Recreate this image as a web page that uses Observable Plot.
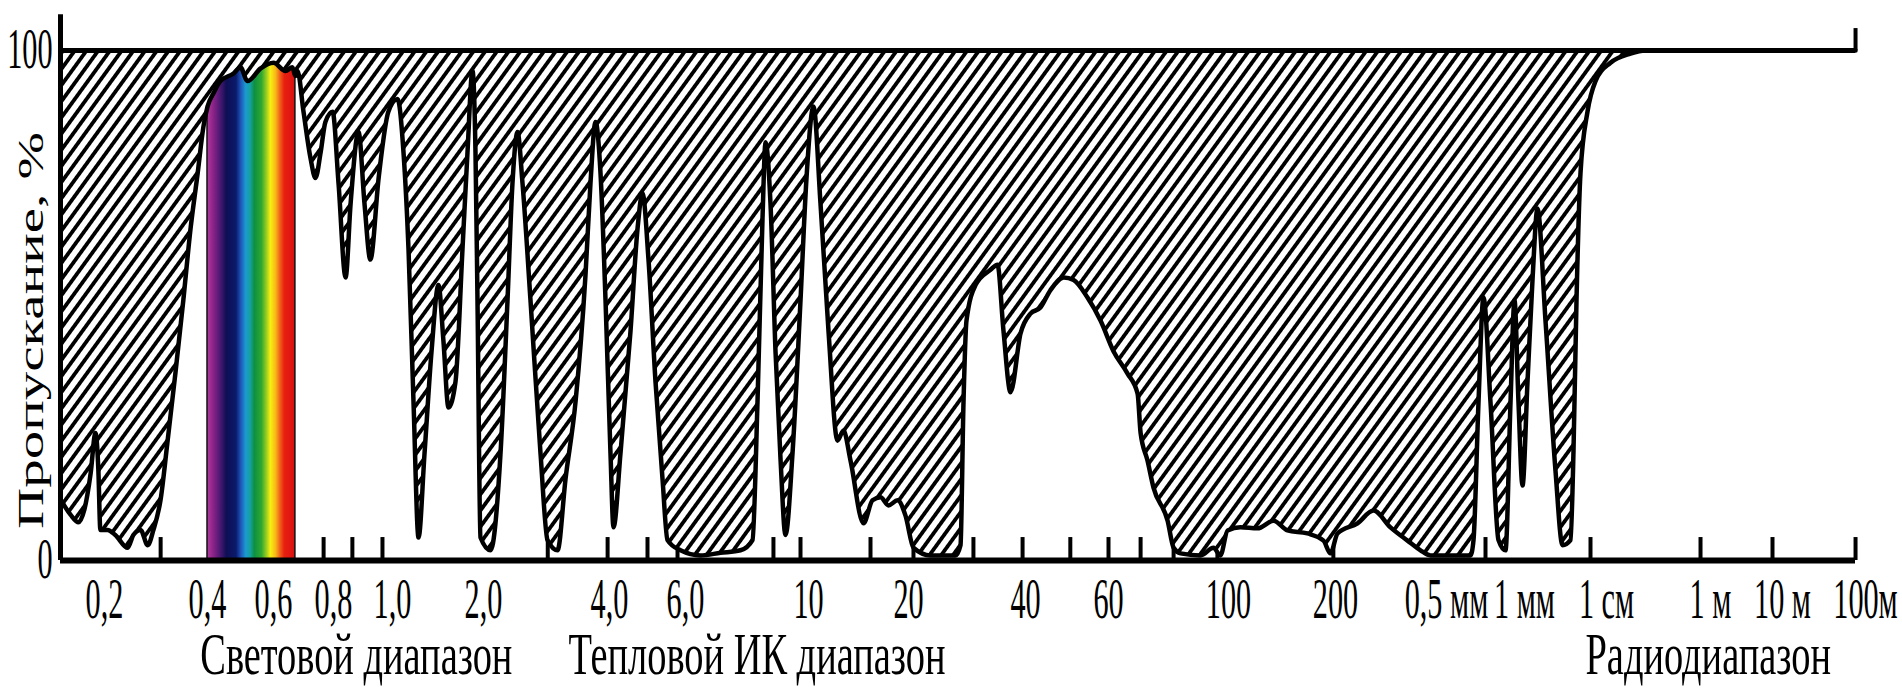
<!DOCTYPE html>
<html>
<head>
<meta charset="utf-8">
<script src="https://cdn.jsdelivr.net/npm/d3@7"></script>
<script src="https://cdn.jsdelivr.net/npm/@observablehq/plot@0.6"></script>
<style>
  html, body { margin: 0; padding: 0; background: #ffffff; }
  #chart svg { display: block; }
</style>
</head>
<body>
<div id="chart"></div>
<script>
// ---- data ----
// wavelength in micrometres (hand-drawn, non-uniform axis), transmission in %
const wavelength = [
  0.1146, 0.134, 0.1495, 0.161, 0.173, 0.1825, 0.188, 0.192, 0.206, 0.221, 0.245, 0.256, 0.270, 0.284, 0.295,
  0.309, 0.322, 0.338, 0.353, 0.367, 0.381, 0.392, 0.400, 0.418, 0.439, 0.479, 0.500, 0.521, 0.561, 0.600,
  0.640, 0.663, 0.673, 0.680, 0.700, 0.723, 0.740, 0.757, 0.773, 0.797, 0.817, 0.841, 0.858, 0.885, 0.905,
  0.925, 0.953, 0.986, 1.055, 1.121, 1.176, 1.231, 1.286, 1.352, 1.429, 1.505, 1.560, 1.615, 1.692, 1.769,
  1.824, 1.879, 1.912, 1.934, 1.967, 2.111, 2.270, 2.381, 2.460, 2.540, 2.619, 2.746, 2.905, 3.016, 3.175,
  3.302, 3.460, 3.619, 3.698, 3.778, 3.857, 3.937, 4.026, 4.105, 4.289, 4.553, 4.737, 4.868, 5.026, 5.211,
  5.395, 5.526, 5.868, 6.488, 7.138, 7.789, 8.179, 8.341, 8.504, 8.602, 8.764, 8.927, 9.089, 9.252, 9.480,
  9.740, 9.935, 10.5, 11.2, 12.0, 12.9, 13.5, 14.2, 15.5, 16.4, 17.2, 18.0, 18.9, 19.7, 20.85,
  23.76, 28.03, 28.89, 29.40, 29.91, 31.45, 34.02, 35.21, 36.24, 37.44, 39.15, 41.2, 43.6, 46.0, 49.2,
  51.6, 54.9, 58.1, 61.7, 66.3, 69.7, 70.7, 73.0, 75.0, 79.7, 81.7, 84.0, 90.7, 95.0, 97.3,
  99.7, 111.2, 127.1, 142.1, 155.1, 173.8, 188.8, 195.3, 205.4, 259.5, 302.7, 348.6, 394.6, 429.7, 456.8,
  653.8, 673.1, 705.1, 737.2, 782.1, 833.3, 878.2, 910.3, 935.9, 961.5, 987.2, 1329, 1878, 2427, 3305,
  4402, 5171, 6049, 6378, 6707, 7146, 7915, 8793, 48077, 238462, 381250, 8.92e7
];
const transmission = [
  12, 9, 7.5, 10, 17, 25, 18, 6, 6, 5, 2.5, 5, 6, 3, 6,
  12, 23, 37, 51, 65, 76, 85, 89, 91.6, 94, 95.5, 96.7, 94, 96.5, 97.6,
  96, 96.7, 95, 96, 88, 79, 75, 80, 86, 88, 74, 55.5, 70, 84, 70,
  59, 75, 88, 90.5, 80, 61, 31, 4.5, 21, 41, 54, 43, 30, 35, 61,
  80, 96, 80, 51, 4.5, 2, 21, 51, 74, 84, 74, 51, 21, 4, 2,
  16, 31, 56, 74, 86, 76, 51, 21, 6.5, 21, 45, 65, 72, 59, 35,
  16, 4, 2, 1, 1.5, 2, 4, 31, 67, 82, 70, 41, 20, 5, 21,
  51, 75, 89, 70, 45, 23.5, 25.5, 19.6, 7.3, 11.8, 12.4, 10.8, 11.8, 8.8, 2.5,
  1, 1, 3, 31, 47, 54, 57, 58, 45, 33, 44.5, 48.4, 49.6, 53, 55.5,
  55, 51.6, 47, 41, 36.7, 32.7, 25, 19.6, 14.3, 7.8, 2.5, 1.4, 1, 2.5, 1,
  5.9, 6.5, 6.3, 7.8, 5.9, 5.3, 3.9, 1.4, 5.3, 7.3, 9.8, 6.5, 3.9, 2, 1,
  1, 4, 31, 51.6, 31, 4, 2, 31, 51, 31, 14.7, 35, 55, 69, 47,
  17.6, 3, 4, 21.5, 51, 76, 88, 94, 97.6, 99.4, 100, 100
];
const tickLabelValues = [0.2, 0.4, 0.6, 0.8, 1, 2, 4, 6, 10, 20, 40, 60, 100, 200, 500, 1000, 1e4, 1e6, 1e7, 1e8];
const tickLabels = ["0,2", "0,4", "0,6", "0,8", "1,0", "2,0", "4,0", "6,0", "10", "20", "40", "60", "100", "200",
  "0,5 мм", "1 мм", "1 см", "1 м", "10 м", "100м"];
const minorTicks = [0.309, 0.767, 0.864, 0.966, 3.02, 3.97, 5.0, 5.79, 8.86, 9.74, 16.2, 20.85, 31.1, 39.5,
  50.8, 60, 70.7, 81.7, 96.3, 198, 750, 8244, 9.05e5, 8.75e6];
const visibleBand = [0.4, 0.673];
const rangeNames = ["Световой диапазон", "Тепловой ИК диапазон", "Радиодиапазон"];
const rangeStarts = [0.386, 3.35, 7695];
const axisEnds = [0.1146, 8.92e7];
const yTicks = [0, 100];
const yLabel = "Пропускание, %";

// ---- build ----
const curve = wavelength.map((w, i) => ({w, t: transmission[i]}));
const band = curve.filter(d => d.w >= visibleBand[0] && d.w <= visibleBand[1]);
const labelOf = new Map(tickLabelValues.map((v, i) => [v, tickLabels[i]]));
const ranges = rangeNames.map((name, i) => ({name, start: rangeStarts[i]}));

const chart = Plot.plot({
  width: 1902,
  height: 691,
  marginLeft: 60,
  marginRight: 47,
  marginTop: 50,
  marginBottom: 131,
  style: {fontFamily: "'Liberation Serif', 'Times New Roman', serif", fontSize: "56px", background: "#ffffff", color: "#000"},
  x: {
    type: "linear",
    // hand-drawn, non-uniform wavelength axis: piecewise scale through the labelled values
    domain: [axisEnds[0], ...tickLabelValues],
    range: [60, 104, 207, 273, 333, 392, 483, 609, 685, 808, 908, 1025, 1108, 1228, 1335, 1446, 1524, 1606, 1710, 1782, 1865]
  },
  y: {domain: [0, 100]},
  marks: [
    Plot.ruleX(minorTicks, {y1: 0, y2: 4.5, stroke: "#000", strokeWidth: 4}),
    Plot.areaY(curve, {x: "w", y1: "t", y2: 100, fill: "url(#hatch)", curve: "monotone-x"}),
    Plot.areaY(band, {x: "w", y1: 0, y2: "t", fill: "url(#rainbow)", stroke: "#111", strokeWidth: 1.5, curve: "monotone-x"}),
    Plot.line(curve, {x: "w", y: "t", stroke: "#000", strokeWidth: 4.5, strokeLinejoin: "round", curve: "monotone-x"}),
    Plot.ruleY([100], {stroke: "#000", strokeWidth: 5}),
    Plot.ruleY([0], {stroke: "#000", strokeWidth: 6}),
    Plot.ruleX([axisEnds[0]], {y1: 0, y2: 107, stroke: "#000", strokeWidth: 5}),
    Plot.ruleX([axisEnds[1]], {y1: 100, y2: 104.3, stroke: "#000", strokeWidth: 4}),
    Plot.ruleX([axisEnds[1]], {y1: 0, y2: 4.5, stroke: "#000", strokeWidth: 4}),
    Plot.axisX(tickLabelValues, {anchor: "bottom", tickSize: 0, tickPadding: 18, label: null,
      tickFormat: d => labelOf.get(d), fontSize: 56, fill: "#000"}),
    Plot.axisY(yTicks, {anchor: "left", tickSize: 0, tickPadding: 8, label: null, fontSize: 56, fill: "#000"}),
    Plot.text(ranges, {x: "start", text: "name", frameAnchor: "bottom", lineAnchor: "middle", dy: 94,
      textAnchor: "start", fontSize: 60, fill: "#000"}),
    Plot.text([yLabel], {text: d => d, frameAnchor: "left", textAnchor: "middle", lineAnchor: "middle",
      rotate: -90, dx: -29, dy: 25, fontSize: 57, fill: "#000"})
  ]
});

// ---- patterns: hatching and visible-spectrum gradient ----
const defs = d3.select(chart).insert("defs", ":first-child");
const pat = defs.append("pattern")
  .attr("id", "hatch").attr("patternUnits", "userSpaceOnUse")
  .attr("width", 9.5).attr("height", 10).attr("patternTransform", "rotate(36)");
pat.append("rect").attr("width", 9.5).attr("height", 10).attr("fill", "#fff");
pat.append("line").attr("x1", 4.75).attr("x2", 4.75).attr("y1", -1).attr("y2", 11)
  .attr("stroke", "#000").attr("stroke-width", 3.8);
const grad = defs.append("linearGradient").attr("id", "rainbow")
  .attr("x1", 0).attr("x2", 1).attr("y1", 0).attr("y2", 0);
[[0, "#b03a9e"], [0.07, "#8c2388"], [0.15, "#4a1872"], [0.22, "#0f0f55"], [0.33, "#0a1a6a"],
 [0.38, "#1e50b4"], [0.44, "#1c9ad2"], [0.49, "#14a0a0"], [0.54, "#0e9040"], [0.62, "#30a830"],
 [0.68, "#a0d020"], [0.72, "#f8f010"], [0.78, "#f8b818"], [0.83, "#f06018"], [0.88, "#e82010"], [1, "#d81010"]]
  .forEach(([o, c]) => grad.append("stop").attr("offset", o).attr("stop-color", c));

// ---- the reference's lettering is tall and narrow: compress it horizontally ----
function squeezeText(t, sx) {
  const tr = t.getAttribute("transform") || "";
  const x = parseFloat(t.getAttribute("x") || 0);
  t.setAttribute("x", x / sx);
  if (tr.includes("rotate(")) t.setAttribute("transform", tr.replace("rotate(", `scale(${sx},1) rotate(`));
  else t.setAttribute("transform", tr + ` scale(${sx},1)`);
}
const tickSet = new Set(tickLabels.concat(yTicks.map(String)));
const rangeSet = new Set(rangeNames);
chart.querySelectorAll("text").forEach(t => {
  const s = t.textContent;
  if (s === yLabel) squeezeText(t, 0.61);
  else if (rangeSet.has(s)) squeezeText(t, 0.64);
  else if (tickSet.has(s)) squeezeText(t, 0.54);
});

document.getElementById("chart").append(chart);
</script>
</body>
</html>
